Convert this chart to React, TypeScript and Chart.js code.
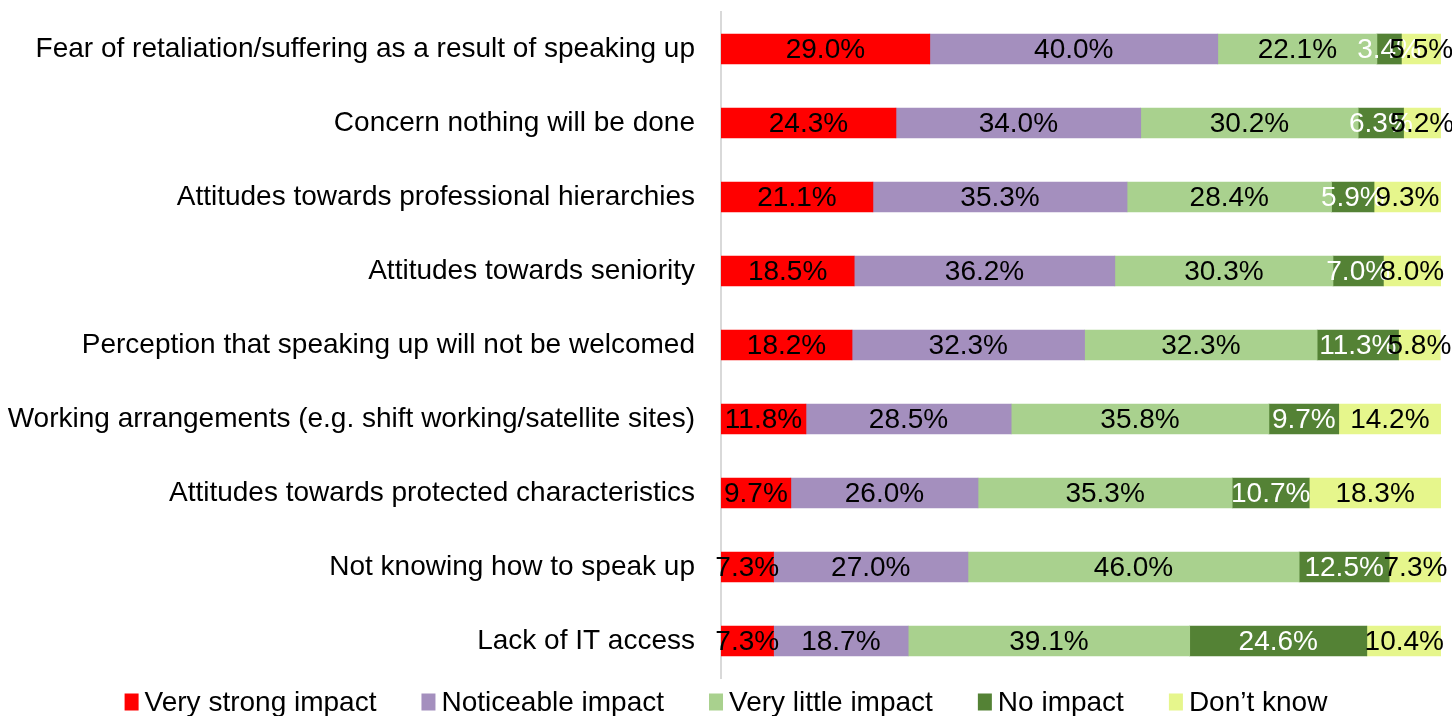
import React, { useEffect, useRef } from "react";
import { Chart, registerables } from "chart.js";

Chart.register(...registerables);

const categories = [
  "Fear of retaliation/suffering as a result of speaking up",
  "Concern nothing will be done",
  "Attitudes towards professional hierarchies",
  "Attitudes towards seniority",
  "Perception that speaking up will not be welcomed",
  "Working arrangements (e.g. shift working/satellite sites)",
  "Attitudes towards protected characteristics",
  "Not knowing how to speak up",
  "Lack of IT access",
];

const veryStrong = [29.0, 24.3, 21.1, 18.5, 18.2, 11.8, 9.7, 7.3, 7.3];
const noticeable = [40.0, 34.0, 35.3, 36.2, 32.3, 28.5, 26.0, 27.0, 18.7];
const veryLittle = [22.1, 30.2, 28.4, 30.3, 32.3, 35.8, 35.3, 46.0, 39.1];
const noImpact = [3.4, 6.3, 5.9, 7.0, 11.3, 9.7, 10.7, 12.5, 24.6];
const dontKnow = [5.5, 5.2, 9.3, 8.0, 5.8, 14.2, 18.3, 7.3, 10.4];

const seriesNames = [
  "Very strong impact",
  "Noticeable impact",
  "Very little impact",
  "No impact",
  "Don\u2019t know",
];
const seriesColors = ["#FF0000", "#A48FBE", "#A9D18E", "#548235", "#E6F68C"];
const labelColors = ["#000000", "#000000", "#000000", "#FFFFFF", "#000000"];

const FONT = "'Liberation Sans', Arial, sans-serif";

const segmentLabels = {
  id: "segmentLabels",
  afterDatasetsDraw(chart: any) {
    const ctx = chart.ctx;
    ctx.save();
    ctx.font = `28px ${FONT}`;
    ctx.textAlign = "center";
    ctx.textBaseline = "middle";
    chart.data.datasets.forEach((ds: any, di: number) => {
      const meta = chart.getDatasetMeta(di);
      meta.data.forEach((el: any, i: number) => {
        const v = ds.data[i];
        const cx = (el.x + el.base) / 2;
        ctx.fillStyle = labelColors[di];
        ctx.fillText(v.toFixed(1) + "%", cx, el.y + 1);
      });
    });
    ctx.restore();
  },
};

const customLegend = {
  id: "customLegend",
  afterDraw(chart: any) {
    const ctx = chart.ctx;
    ctx.save();
    ctx.font = `28px ${FONT}`;
    ctx.textBaseline = "middle";
    ctx.textAlign = "left";
    const boxW = 14;
    const boxH = 17;
    const gapText = 6;
    const gapItem = 45;
    const ds = chart.data.datasets;
    const widths = ds.map((d: any) => boxW + gapText + ctx.measureText(d.label).width);
    const total = widths.reduce((a: number, b: number) => a + b, 0) + gapItem * (ds.length - 1);
    let x = (chart.width - total) / 2;
    const cy = 702;
    ds.forEach((d: any, i: number) => {
      ctx.fillStyle = d.backgroundColor;
      ctx.fillRect(x, cy - boxH / 2, boxW, boxH);
      ctx.fillStyle = "#000";
      ctx.fillText(d.label, x + boxW + gapText, cy + 1);
      x += widths[i] + gapItem;
    });
    ctx.restore();
  },
};

export default function App() {
  const ref = useRef<HTMLCanvasElement>(null);
  useEffect(() => {
    const all = [veryStrong, noticeable, veryLittle, noImpact, dontKnow];
    const chart = new Chart(ref.current!, {
      type: "bar",
      data: {
        labels: categories,
        datasets: all.map((d, i) => ({
          label: seriesNames[i],
          data: d,
          backgroundColor: seriesColors[i],
          borderWidth: 0,
          barThickness: 30,
        })),
      },
      options: {
        indexAxis: "y",
        responsive: false,
        animation: false,
        layout: { padding: { top: 12, right: 11, left: 0, bottom: 38 } },
        plugins: {
          tooltip: { enabled: false },
          legend: { display: false },
        },
        scales: {
          x: {
            stacked: true,
            min: 0,
            max: 100,
            display: false,
          },
          y: {
            stacked: true,
            afterFit(scale: any) {
              scale.width = 721;
              scale.paddingTop = 0;
              scale.paddingBottom = 0;
            },
            grid: { display: false, drawTicks: false },
            border: { display: true, color: "#D9D9D9", width: 2 },
            ticks: {
              padding: 26,
              color: "#000",
              font: { family: FONT, size: 28 },
            },
          },
        },
      } as any,
      plugins: [segmentLabels, customLegend],
    });
    return () => chart.destroy();
  }, []);
  return (
    <div style={{ position: "fixed", left: 0, top: 0, width: 1452, height: 716 }}>
      <canvas ref={ref} width={1452} height={716} />
    </div>
  );
}
